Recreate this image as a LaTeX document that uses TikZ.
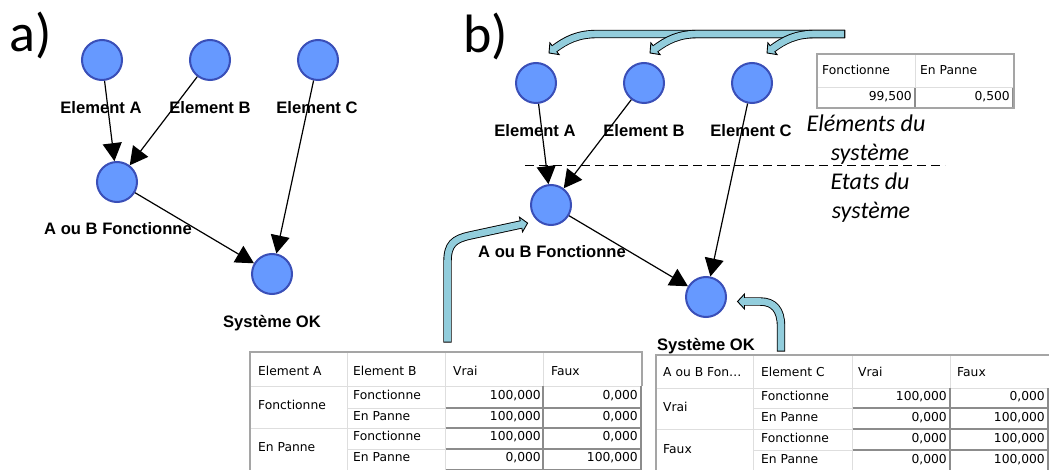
\documentclass[tikz,border=0pt]{standalone}
\usepackage{fontspec}
\usetikzlibrary{arrows.meta,calc}
\newfontfamily\arialfont{Liberation Sans}
\newfontfamily\tabfont{DejaVu Sans}
\newfontfamily\calfont{Carlito}
\definecolor{circF}{RGB}{102,153,255}
\definecolor{circB}{RGB}{58,79,184}
\definecolor{bandF}{RGB}{146,205,220}
\definecolor{tlight}{RGB}{222,222,222}
\definecolor{tdark}{RGB}{140,140,140}
\definecolor{touter}{RGB}{165,165,165}
\tikzset{
  circ/.style={circle, minimum size=40pt, inner sep=0pt, line width=2pt, draw=circB, fill=circF},
  lbl/.style={font=\arialfont\bfseries\fontsize{16.6}{19}\selectfont, inner sep=0pt, anchor=base},
  biglbl/.style={font=\calfont\fontsize{54}{60}\selectfont, inner sep=0pt, anchor=base west},
  itl/.style={font=\calfont\itshape\fontsize{24}{29}\selectfont, inner sep=0pt, anchor=base},
  conn/.style={line width=1.2pt, -{Triangle[length=18pt,width=19pt]}},
  bandout/.style={line width=8.4pt, draw=black, line join=round},
  bandin/.style={line width=6.6pt, draw=bandF, shorten <=0.9pt, shorten >=-1.5pt, line join=round},
  bandhead/.style={fill=bandF, draw=black, line width=0.9pt, line join=miter},
  tt/.style={font=\tabfont\fontsize{12.3}{14}\selectfont, inner sep=0pt, anchor=mid west},
  tv/.style={font=\tabfont\fontsize{12.3}{14}\selectfont, inner sep=0pt, anchor=mid east},
  tlightline/.style={draw=tlight, line width=1pt},
  tdarkline/.style={draw=tdark, line width=1.2pt},
  touterline/.style={draw=touter, line width=1.2pt},
  sepline/.style={line width=1pt, dash pattern=on 9pt off 5pt}
}
\newcommand\bandarrow[3]{%
  \draw[bandout] #1;
  \filldraw[bandhead] (#3) -- ($(#2)!7.5pt!90:(#3)$) -- ($(#2)!7.5pt!-90:(#3)$) -- cycle;
  \draw[bandin] #1;
}
\begin{document}
\begin{tikzpicture}[x=1pt,y=-1pt]
\useasboundingbox (0,0) rectangle (1049,470);
\fill[white] (0,0) rectangle (1049,470);

% ---------- a) ----------
\node[biglbl] (ta) at (9,52) {a)};
\node[circ] (aA) at (102,60) {};
\node[circ] (aB) at (210,60) {};
\node[circ] (aC) at (318,60) {};
\node[circ] (aAB) at (117,182) {};
\node[circ] (aS) at (272,274) {};
\node[lbl] (laA) at (101,114) {Element A};
\node[lbl] (laB) at (210,114) {Element B};
\node[lbl] (laC) at (317,114) {Element C};
\node[lbl] (laAB) at (118,235) {A ou B Fonctionne};
\node[lbl] (laS) at (272,327) {Système OK};
\draw[conn] (aA) -- (aAB);
\draw[conn] (aB) -- (aAB);
\draw[conn] (aC) -- (aS);
\draw[conn] (aAB) -- (aS);

% ---------- b) ----------
\node[biglbl] (tb) at (463,53) {b)};
\node[circ] (bA) at (536,83) {};
\node[circ] (bB) at (644,83) {};
\node[circ] (bC) at (752,83) {};
\node[circ] (bAB) at (551,205) {};
\node[circ] (bS) at (706,297) {};
\node[lbl] (lbA) at (535,137) {Element A};
\node[lbl] (lbB) at (644,137) {Element B};
\node[lbl] (lbC) at (751,137) {Element C};
\node[lbl] (lbAB) at (552,258) {A ou B Fonctionne};
\node[lbl] (lbS) at (706,350) {Système OK};
\draw[conn] (bA) -- (bAB);
\draw[conn] (bB) -- (bAB);
\draw[conn] (bC) -- (bS);
\draw[conn] (bAB) -- (bS);

% dashed separator and italic labels
\coordinate (d1) at (525,166);
\coordinate (d2) at (945,166);
\draw[sepline] (d1) -- (d2);
\node[itl] (it1) at (866,132) {Eléments du};
\node[itl] (it2) at (870,161) {système};
\node[itl] (it3) at (870,190) {Etats du};
\node[itl] (it4) at (871,219) {système};

% ---------- thick arrows ----------
\bandarrow{(845,34) -- (597,34) .. controls (578,34) and (566,40) .. (554.5,48.7)}{554.5,48.7}{549,53}
\bandarrow{(845,34) -- (698,34) .. controls (679,34) and (667,40) .. (655.5,48.7)}{655.5,48.7}{650,53}
\bandarrow{(845,34) -- (815,34) .. controls (796,34) and (784,40) .. (772.5,48.7)}{772.5,48.7}{767,53}
\bandarrow{(447.5,342.5) -- (447.5,262) .. controls (447.5,244) and (454,239) .. (470,235.5) -- (521,224.5)}{521,224.5}{527.6,223.1}
\bandarrow{(781,351.5) -- (781,326) .. controls (781,310) and (774,301.5) .. (760,301.5) -- (744.5,301.5)}{744.5,301.5}{737.5,301.5}

% ---------- top-right table ----------
\draw[tlightline] (817,88) -- (1014,88);
\draw[tlightline] (915,54) -- (915,88);
\draw[tdarkline] (915,88) -- (915,108);
\draw[tdarkline] (1013,88) -- (1013,108);
\draw[touterline] (817,54) rectangle (1014,108);
\node[tt] (h1) at (822,72) {Fonctionne};
\node[tt] (h2) at (920,72) {En Panne};
\node[tv] (v1) at (912,98) {99,500};
\node[tv] (v2) at (1010,98) {0,500};

% ---------- bottom-left table ----------
\draw[tlightline] (250,386) -- (642,386);
\draw[tlightline] (347,352) -- (347,471);
\draw[tlightline] (445,352) -- (445,471);
\draw[tlightline] (543,352) -- (543,386);
\draw[tlightline] (250,428) -- (347,428);
\foreach \yy in {408,428,449} {\draw[tlightline] (347,\yy) -- (445,\yy);}
\foreach \yy in {408,428,449,470} {\draw[tdarkline] (446,\yy) -- (642,\yy);}
\draw[tdarkline] (543,386) -- (543,471);
\draw[tdarkline] (641,386) -- (641,471);
\draw[touterline] (250,471) -- (250,352) -- (642,352) -- (642,386);
\node[tt] (L11) at (258,373) {Element A};
\node[tt] (L12) at (353,373) {Element B};
\node[tt] (L13) at (453,373) {Vrai};
\node[tt] (L14) at (551,373) {Faux};
\node[tt] (L21) at (258,407) {Fonctionne};
\node[tt] (L31) at (258,449) {En Panne};
\node[tt] (L22) at (353,397) {Fonctionne};
\node[tt] (L23) at (353,418) {En Panne};
\node[tt] (L24) at (353,438) {Fonctionne};
\node[tt] (L25) at (353,459) {En Panne};
\node[tv] (Lv1) at (541,397) {100,000};
\node[tv] (Lw1) at (638,397) {0,000};
\node[tv] (Lv2) at (541,418) {100,000};
\node[tv] (Lw2) at (638,418) {0,000};
\node[tv] (Lv3) at (541,438) {100,000};
\node[tv] (Lw3) at (638,438) {0,000};
\node[tv] (Lv4) at (541,459) {0,000};
\node[tv] (Lw4) at (638,459) {100,000};

% ---------- bottom-right table ----------
\draw[tlightline] (656,388) -- (1049,388);
\draw[tlightline] (753,355) -- (753,471);
\draw[tlightline] (852,355) -- (852,471);
\draw[tlightline] (950,355) -- (950,388);
\draw[tlightline] (656,429) -- (753,429);
\foreach \yy in {408,429,450} {\draw[tlightline] (753,\yy) -- (852,\yy);}
\foreach \yy in {408,429,450} {\draw[tdarkline] (853,\yy) -- (1049,\yy);}
\draw[tdarkline] (950,388) -- (950,471);
\draw[tdarkline] (1048,388) -- (1048,471);
\draw[touterline] (656,471) -- (656,355) -- (1049,355);
\node[tt] (R11) at (663,374) {A ou B Fon…};
\node[tt] (R12) at (761,374) {Element C};
\node[tt] (R13) at (858,374) {Vrai};
\node[tt] (R14) at (957,374) {Faux};
\node[tt] (R21) at (663,409) {Vrai};
\node[tt] (R31) at (663,451) {Faux};
\node[tt] (R22) at (761,398) {Fonctionne};
\node[tt] (R23) at (761,419) {En Panne};
\node[tt] (R24) at (761,440) {Fonctionne};
\node[tt] (R25) at (761,461) {En Panne};
\node[tv] (Rv1) at (947,398) {100,000};
\node[tv] (Rw1) at (1045,398) {0,000};
\node[tv] (Rv2) at (947,419) {0,000};
\node[tv] (Rw2) at (1045,419) {100,000};
\node[tv] (Rv3) at (947,440) {0,000};
\node[tv] (Rw3) at (1045,440) {100,000};
\node[tv] (Rv4) at (947,461) {0,000};
\node[tv] (Rw4) at (1045,461) {100,000};
\end{tikzpicture}
\end{document}
